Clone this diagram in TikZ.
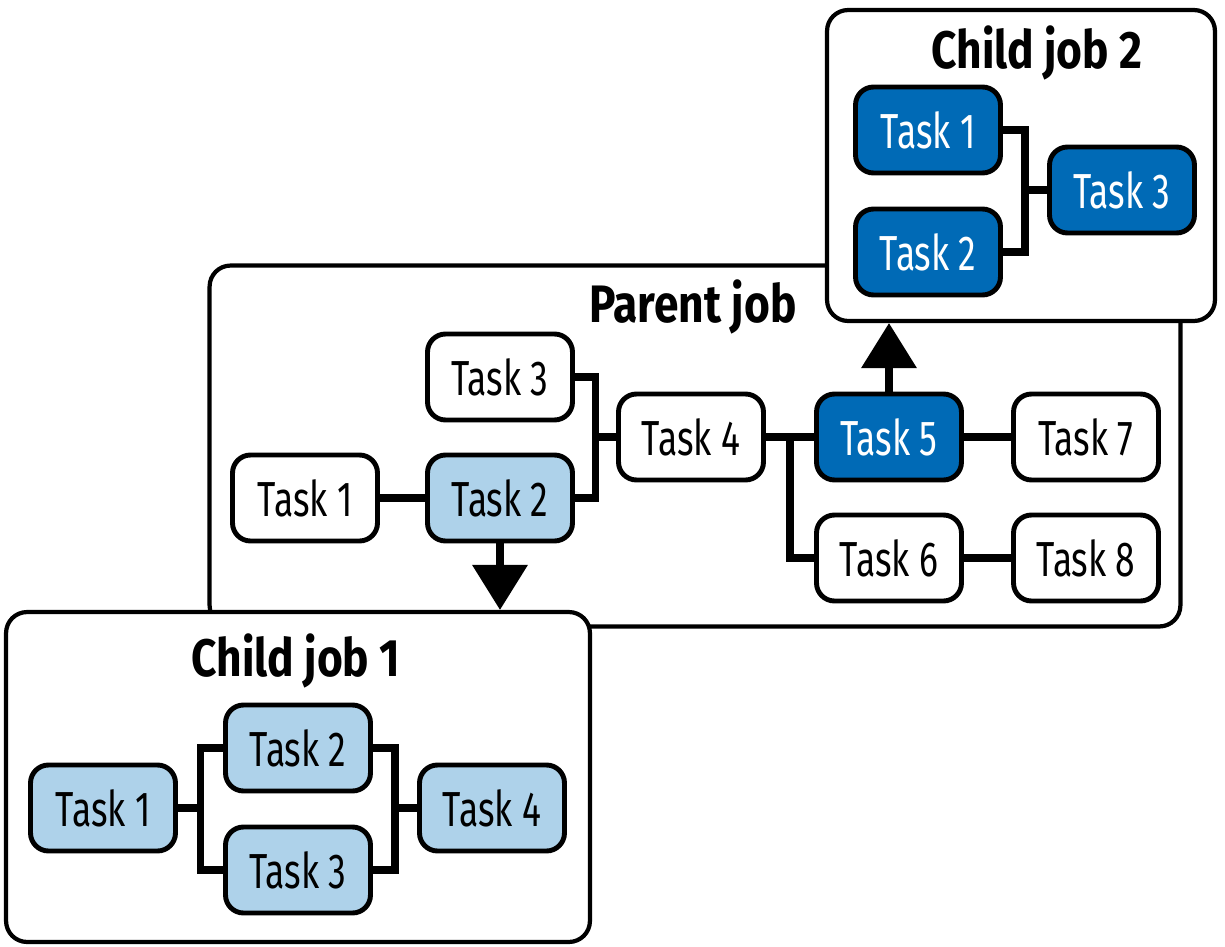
\documentclass[tikz,border=0pt]{standalone}
\usepackage{fontspec}
\setmainfont{Fira Sans}[FakeStretch=0.72]
\newfontfamily\titlefont{Fira Sans}[FakeStretch=0.84]
\usetikzlibrary{calc,arrows.meta}
\definecolor{lightjob}{RGB}{174,210,234}
\definecolor{darkjob}{RGB}{0,106,182}
\def\tasknode{\node[task]}
\def\drawlink{\draw[link]}

\begin{document}
\begin{tikzpicture}[x=0.02cm,y=-0.02cm,
  task/.style={draw=black,line width=2.8pt,rounded corners=0.36cm,fill=white,
    minimum width=2.9cm,minimum height=1.72cm,inner sep=0pt,font=\fontsize{28}{32}\selectfont},
  childtask/.style={task,fill=lightjob},
  spawntask/.style={task,fill=darkjob,text=white},
  jobbox/.style={draw=black,line width=2.4pt,rounded corners=0.42cm,fill=white,inner sep=0pt},
  jobtitle/.style={font=\titlefont\fontsize{30}{34}\selectfont\bfseries,inner sep=0pt,anchor=base},
  link/.style={line width=4pt},
  spawn/.style={line width=4pt,-{Triangle[width=1.08cm,length=0.9cm]}}]
\useasboundingbox (0,0) rectangle (1225,947);

% -------- Parent job ---------
\node[jobbox,minimum width=19.42cm,minimum height=7.22cm] (parent) at (695,446) {};
\node[jobtitle] (ptitle) at (693,322) {Parent job};
\tasknode (t1) at (305,498) {Task 1};
\tasknode[fill=lightjob] (t2) at (500,498) {Task 2};
\tasknode (t3) at (500,377) {Task 3};
\tasknode (t4) at (691,437) {Task 4};
\tasknode[fill=darkjob,text=white] (t5) at (889,437) {Task 5};
\tasknode (t6) at (889,558) {Task 6};
\tasknode (t7) at (1086,437) {Task 7};
\tasknode (t8) at (1086,558) {Task 8};
\coordinate (pj) at ($ (t2.east)!0.5!(t4.west) $); % join of task 2 and task 3
\coordinate (pb) at ($ (t4.east)!0.5!(t5.west) $); % branch to task 6
\drawlink (t1.east) -- (t2.west);
\drawlink (t3.east) -| (pj) |- (t2.east);
\drawlink (pj |- t4.west) -- (t4.west);
\drawlink (t4.east) -- (t5.west);
\drawlink (pb) |- (t6.west);
\drawlink (t5.east) -- (t7.west);
\drawlink (t6.east) -- (t8.west);
% ------ end parent job ------

% -------- Child job 1 ---------
\node[jobbox,minimum width=11.68cm,minimum height=6.6cm] (child1) at (298,777) {};
\node[jobtitle] (ctitle1) at (296,676) {Child job 1};
\node[childtask] (b1) at (103,808) {Task 1};
\node[childtask] (b2) at (298,748) {Task 2};
\node[childtask] (b3) at (298,870) {Task 3};
\node[childtask] (b4) at (492,808) {Task 4};
\coordinate (lj) at ($ (b1.east)!0.5!(b1.east -| b2.west) $); % split after task 1
\coordinate (rj) at ($ (b4.west)!0.5!(b4.west -| b2.east) $); % join before task 4
\drawlink (b2.west) -| (lj) |- (b3.west);
\drawlink (b1.east) -- (lj);
\drawlink (b2.east) -| (rj) |- (b3.east);
\drawlink (rj) -- (b4.west);
% ------ end child job 1 ------

% -------- Child job 2 ---------
\node[jobbox,minimum width=7.76cm,minimum height=6.22cm] (child2) at (1021,165.5) {};
\node[jobtitle] (ctitle2) at (1037,68) {Child job 2};
\node[spawntask] (a1) at (928,130) {Task 1};
\node[spawntask] (a2) at (928,252) {Task 2};
\node[spawntask] (a3) at (1122,190) {Task 3};
\coordinate (cj) at ($ (a3.west)!0.5!(a3.west -| a1.east) $); % join before task 3
\drawlink (a1.east) -| (cj) |- (a2.east);
\drawlink (cj) -- (a3.west);
% ------ end child job 2 ------

% spawning arrows
\draw[spawn] (t2.south) -- (t2.south |- child1.north);
\draw[spawn] (t5.north) -- (t5.north |- child2.south);
\end{tikzpicture}
\end{document}
